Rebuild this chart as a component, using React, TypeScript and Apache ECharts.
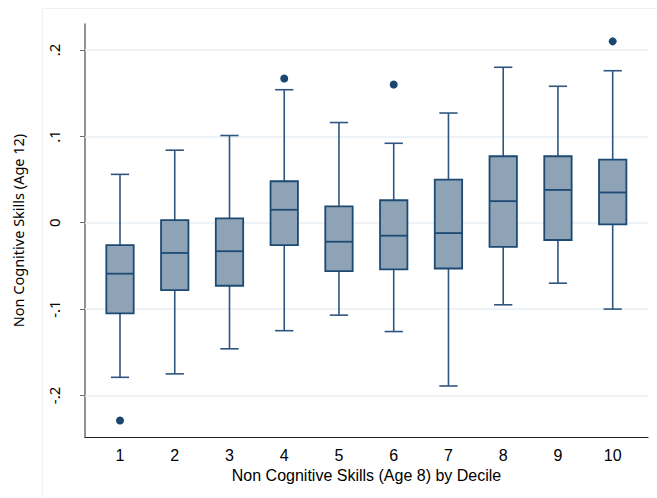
import React, { useEffect, useRef } from "react";
import * as echarts from "echarts";

// Deciles (x positions)
const deciles = [1, 2, 3, 4, 5, 6, 7, 8, 9, 10];
// Box statistics
const lowerWhisker = [-0.179, -0.175, -0.146, -0.125, -0.107, -0.126, -0.189, -0.095, -0.070, -0.100];
const q1 = [-0.105, -0.078, -0.073, -0.026, -0.056, -0.054, -0.053, -0.028, -0.020, -0.002];
const median = [-0.059, -0.035, -0.033, 0.015, -0.022, -0.015, -0.012, 0.025, 0.038, 0.035];
const q3 = [-0.026, 0.003, 0.005, 0.048, 0.019, 0.026, 0.050, 0.077, 0.077, 0.073];
const upperWhisker = [0.056, 0.084, 0.101, 0.154, 0.116, 0.092, 0.127, 0.180, 0.158, 0.176];
// Outliers
const outlierX = [1, 4, 6, 10];
const outlierY = [-0.229, 0.167, 0.160, 0.210];
// Y tick values and labels
const yTicks = [-0.2, -0.1, 0, 0.1, 0.2];
const yTickLabels = ["-.2", "-.1", "0", ".1", ".2"];

const BOX_FILL = "#8fa3b7";
const BOX_LINE = "#1d4a73";
const WHISKER = "#2f5680";

export default function App() {
  const ref = useRef<HTMLDivElement>(null);
  useEffect(() => {
    if (!ref.current) return;
    const chart = echarts.init(ref.current, null, { renderer: "svg" });
    const boxData = deciles.map((d, i) => [d, lowerWhisker[i], q1[i], median[i], q3[i], upperWhisker[i]]);
    const outliers = outlierX.map((x, i) => [x, outlierY[i]]);
    const labelMap: Record<string, string> = {};
    yTicks.forEach((v, i) => (labelMap[v.toFixed(1)] = yTickLabels[i]));

    chart.setOption({
      animation: false,
      backgroundColor: "#ffffff",
      graphic: [
        {
          type: "rect",
          left: 40,
          top: 6,
          shape: { width: 640, height: 520 },
          style: { fill: "none", stroke: "#eef2f6", lineWidth: 1 },
          silent: true,
          z: -10,
        },
      ],
      grid: { left: 85, right: 9, top: 24, bottom: 61 },
      xAxis: {
        type: "value",
        min: 0.3606,
        max: 10.645,
        name: "Non Cognitive Skills (Age 8) by Decile",
        nameLocation: "middle",
        nameGap: 25,
        nameTextStyle: { fontFamily: "Liberation Sans", fontSize: 16, color: "#000" },
        axisLine: { show: true, onZero: false, lineStyle: { color: "#222", width: 1.2 } },
        axisTick: { show: false },
        splitLine: { show: false },
        axisLabel: {
          customValues: deciles,
          fontFamily: "Liberation Sans",
          fontSize: 16,
          color: "#000",
          margin: 10,
        },
      },
      yAxis: {
        type: "value",
        min: -0.2481,
        max: 0.2301,
        name: "Non Cognitive Skills (Age 12)",
        nameLocation: "middle",
        nameGap: 60,
        nameRotate: 90,
        nameTextStyle: { fontFamily: "Noto Sans", fontSize: 14.5, color: "#000" },
        axisLine: { show: true, onZero: false, lineStyle: { color: "#6e6e6e", width: 1.5 } },
        axisTick: { show: true, customValues: yTicks, length: 5, lineStyle: { color: "#6e6e6e" } },
        splitLine: { show: false },
        axisLabel: {
          customValues: yTicks,
          rotate: 90,
          margin: 24,
          fontFamily: "Noto Sans",
          fontSize: 15,
          color: "#000",
          formatter: (v: number) => labelMap[v.toFixed(1)] ?? String(v),
        },
      },
      series: [
        {
          type: "custom",
          data: boxData,
          encode: { x: 0, y: [1, 2, 3, 4, 5] },
          z: 5,
          markLine: {
            silent: true,
            symbol: "none",
            label: { show: false },
            lineStyle: { color: "#e9eff4", width: 1.5, type: "solid" },
            data: yTicks.map((v) => ({ yAxis: v })),
            z: 1,
          },
          renderItem: (params: any, api: any) => {
            const x = api.value(0);
            const lo = api.coord([x, api.value(1)]);
            const b1 = api.coord([x, api.value(2)]);
            const md = api.coord([x, api.value(3)]);
            const b3 = api.coord([x, api.value(4)]);
            const hi = api.coord([x, api.value(5)]);
            const halfBox = api.size([0.25, 0])[0];
            const halfCap = api.size([0.167, 0])[0];
            const cx = lo[0];
            const wStyle = { stroke: WHISKER, lineWidth: 1.6 };
            return {
              type: "group",
              children: [
                { type: "line", shape: { x1: cx, y1: hi[1], x2: cx, y2: b3[1] }, style: wStyle },
                { type: "line", shape: { x1: cx, y1: b1[1], x2: cx, y2: lo[1] }, style: wStyle },
                { type: "line", shape: { x1: cx - halfCap, y1: hi[1], x2: cx + halfCap, y2: hi[1] }, style: wStyle },
                { type: "line", shape: { x1: cx - halfCap, y1: lo[1], x2: cx + halfCap, y2: lo[1] }, style: wStyle },
                {
                  type: "rect",
                  shape: { x: cx - halfBox, y: b3[1], width: 2 * halfBox, height: b1[1] - b3[1] },
                  style: { fill: BOX_FILL, stroke: BOX_LINE, lineWidth: 1.8 },
                },
                {
                  type: "line",
                  shape: { x1: cx - halfBox, y1: md[1], x2: cx + halfBox, y2: md[1] },
                  style: { stroke: BOX_LINE, lineWidth: 1.8 },
                },
              ],
            };
          },
        },
        {
          type: "scatter",
          data: outliers,
          symbol: "circle",
          symbolSize: 8,
          itemStyle: { color: "#1a476f", opacity: 1 },
          z: 6,
        },
      ],
    });
    return () => chart.dispose();
  }, []);
  return <div ref={ref} style={{ width: 657, height: 498, position: "absolute", left: 0, top: 0 }} />;
}
